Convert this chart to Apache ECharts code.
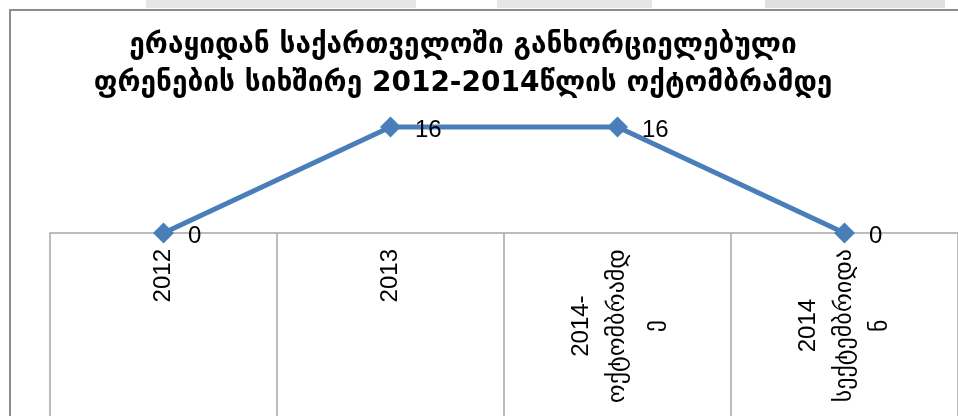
<!DOCTYPE html>
<html>
<head>
<meta charset="utf-8">
<script src="https://cdn.jsdelivr.net/npm/echarts@6/dist/echarts.min.js"></script>
<style>
html,body{margin:0;padding:0;background:#fff;}
#chart{width:958px;height:416px;}
</style>
</head>
<body>
<div id="chart"></div>
<script>
const titleText = 'ერაყიდან საქართველოში განხორციელებული\nფრენების სიხშირე 2012-2014წლის ოქტომბრამდე';
const categories = ['2012', '2013', '2014-\nოქტომბრამდ\nე', '2014\nსექტემბრიდა\nნ'];
const flights = [0, 16, 16, 0];

const blue = '#4A7EBB';
const gray = '#8c8c8c';
const chart = echarts.init(document.getElementById('chart'));
chart.setOption({
  animation: false,
  backgroundColor: '#fff',
  title: {
    text: titleText,
    left: 458,
    top: 22,
    textAlign: 'center',
    textStyle: {
      fontFamily: 'DejaVu Sans',
      fontSize: 28,
      fontWeight: 'bold',
      lineHeight: 38,
      color: '#000'
    }
  },
  graphic: [
    { type: 'rect', shape: { x: 146, y: 0, width: 270, height: 8 }, style: { fill: '#e6e6e6' }, silent: true },
    { type: 'rect', shape: { x: 497, y: 0, width: 155, height: 8 }, style: { fill: '#e6e6e6' }, silent: true },
    { type: 'rect', shape: { x: 765, y: 0, width: 180, height: 8 }, style: { fill: '#e0e0e0' }, silent: true },
    { type: 'rect', shape: { x: 10, y: 10, width: 970, height: 430 }, style: { fill: 'none', stroke: gray, lineWidth: 2 }, silent: true, z: 100 }
  ],
  grid: { left: 50, right: -2, top: 100.5, bottom: 183 },
  xAxis: {
    type: 'category',
    data: categories,
    boundaryGap: true,
    axisLine: { show: true, lineStyle: { color: '#a6a6a6', width: 1.5 } },
    axisTick: { show: true, interval: 0, length: 200, lineStyle: { color: '#a6a6a6', width: 1.5 } },
    splitLine: { show: false },
    axisLabel: {
      interval: 0,
      rotate: 90,
      margin: 16,
      fontFamily: 'Liberation Sans, DejaVu Sans',
      fontSize: 24,
      color: '#000',
      formatter: function (v) {
        return v.split('\n').map(function (l) { return '{c|' + l + '}'; }).join('\n');
      },
      rich: {
        c: { align: 'center', fontFamily: 'Liberation Sans, DejaVu Sans', fontSize: 24, lineHeight: 36, color: '#000' }
      }
    }
  },
  yAxis: { type: 'value', min: 0, max: 20, show: false, splitLine: { show: false } },
  series: [{
    type: 'line',
    data: flights,
    symbol: 'diamond',
    symbolSize: 21,
    itemStyle: { color: blue },
    lineStyle: { color: blue, width: 5 },
    label: {
      show: true,
      position: 'right',
      distance: 14,
      offset: [0, 3],
      fontFamily: 'Liberation Sans, DejaVu Sans',
      fontSize: 24,
      color: '#000'
    }
  }]
});
</script>
</body>
</html>
